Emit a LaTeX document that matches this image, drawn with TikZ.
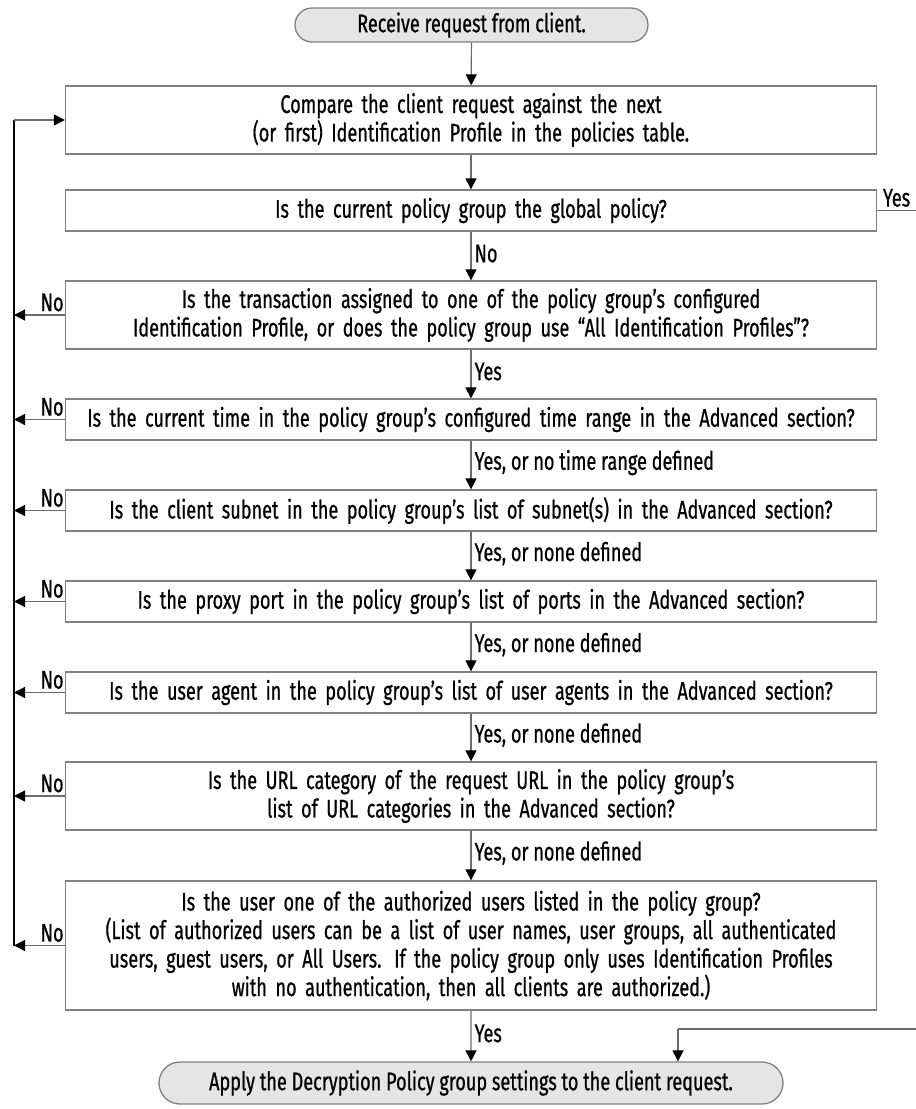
\documentclass[tikz,border=0pt]{standalone}
\usepackage{fontspec}
\setmainfont{Fira Sans}[FakeStretch=0.71, FakeBold=0.7, AutoFakeBold=0]
\usetikzlibrary{arrows.meta, positioning, shapes.misc}
\definecolor{boxgray}{rgb}{0.5,0.5,0.5}
\definecolor{linegray}{rgb}{0.42,0.42,0.42}
\definecolor{termgray}{rgb}{0.9,0.9,0.9}

\tikzset{
  decision/.style={rectangle, draw=boxgray, line width=1.3pt, minimum width=811pt,
    text width=800pt, align=center, inner sep=0pt, font=\fontsize{25.5}{28.5}\selectfont},
  terminal/.style={rounded rectangle, draw=boxgray, fill=termgray, line width=1.3pt,
    align=center, inner sep=0pt, font=\fontsize{25.5}{28.5}\selectfont},
  flow/.style={linegray, line width=1.2pt, arrows={-Triangle[length=11pt,width=11pt,color=black]}},
  tag/.style={inner sep=3pt, text=black, font=\fontsize{25.5}{28.5}\selectfont},
}

\begin{document}
\begin{tikzpicture}[x=1pt,y=-1pt]
	\useasboundingbox (0,0) rectangle (916,1109);

	%----------------------------------------------------------------
	\node(receive) [terminal, minimum width=353pt, minimum height=34pt] at (471.5,25) {Receive request from client.};

	\node(compare) [decision, minimum height=68pt] at (471,120) {Compare the client request against the next\\
		(or first) Identification Profile in the policies table.};
	\node(global) [decision, minimum height=41pt] at (471,210.5) {Is the current policy group the global policy?};
	\node(assigned) [decision, minimum height=68pt] at (471,315) {Is the transaction assigned to one of the policy group’s configured\\
		Identification Profile, or does the policy group use “All Identification Profiles”?};
	\node(time) [decision, minimum height=41pt] at (471,419.5) {Is the current time in the policy group’s configured time range in the Advanced section?};
	\node(subnet) [decision, minimum height=41pt] at (471,510.5) {Is the client subnet in the policy group’s list of subnet(s) in the Advanced section?};
	\node(port) [decision, minimum height=41pt] at (471,601.5) {Is the proxy port in the policy group’s list of ports in the Advanced section?};
	\node(agent) [decision, minimum height=41pt] at (471,692.5) {Is the user agent in the policy group’s list of user agents in the Advanced section?};
	\node(urlcat) [decision, minimum height=68pt] at (471,796) {Is the URL category of the request URL in the policy group’s\\
		list of URL categories in the Advanced section?};
	\node(authusers) [decision, minimum height=129pt] at (471,945.5) {Is the user one of the authorized users listed in the policy group?\\
		(List of authorized users can be a list of user names, user groups, all authenticated\\
		users, guest users, or All Users. If the policy group only uses Identification Profiles\\
		with no authentication, then all clients are authorized.)};

	\node(apply) [terminal, minimum width=624pt, minimum height=42pt] at (471,1083) {Apply the Decryption Policy group settings to the client request.};

	%----------------------------------------------------------------
	\draw[flow] (receive) -- (compare);
	\draw[flow] (compare) -- (global);
	\draw[flow] (global) -- node[tag, right, pos=0.45] {No} (assigned);
	\draw[flow] (assigned) -- node[tag, right, pos=0.45] {Yes} (time);
	\draw[flow] (time) -- node[tag, right, pos=0.45] {Yes, or no time range defined} (subnet);
	\draw[flow] (subnet) -- node[tag, right, pos=0.45] {Yes, or none defined} (port);
	\draw[flow] (port) -- node[tag, right, pos=0.45] {Yes, or none defined} (agent);
	\draw[flow] (agent) -- node[tag, right, pos=0.45] {Yes, or none defined} (urlcat);
	\draw[flow] (urlcat) -- node[tag, right, pos=0.45] {Yes, or none defined} (authusers);
	\draw[flow] (authusers) -- node[tag, right, pos=0.45] {Yes} (apply);

	%----------------------------------------------------------------
	\coordinate (loop) at (14,0);
	\foreach \q in {assigned,time,subnet,port,agent,urlcat,authusers}
		\draw[flow] (\q.west) -- node[tag, above, pos=0.25] {No} (\q.west -| loop);
	\draw[black, line width=1.2pt] (authusers.west -| loop) -- (compare.west -| loop);
	\draw[flow] (compare.west -| loop) -- (compare.west);

	%----------------------------------------------------------------
	\coordinate (yesout) at (916,210.5);
	\coordinate (yesin) at (916,1029);
	\coordinate (yesdrop) at (678,1029);
	\draw[linegray, line width=1.2pt] (global.east) -- node[tag, above] {Yes} (yesout);
	\draw[linegray, line width=1.2pt] (yesin) -- (yesdrop);
	\draw[flow] (yesdrop) -- (yesdrop |- apply.north);
\end{tikzpicture}
\end{document}
